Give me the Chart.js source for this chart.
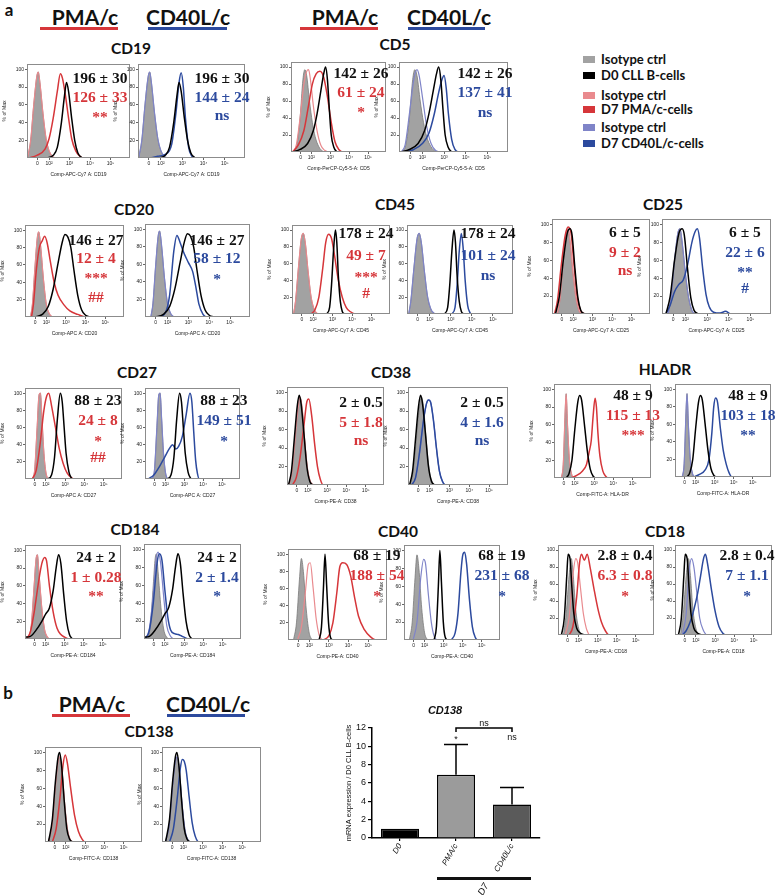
<!DOCTYPE html>
<html>
<head>
<meta charset="utf-8">
<script src="https://cdn.jsdelivr.net/npm/chart.js@4.4.0/dist/chart.umd.min.js"></script>
<style>
  body { margin:0; background:#fff; width:777px; height:895px; position:relative; overflow:hidden; font-family:Lato, "Open Sans", sans-serif; }
  canvas { position:absolute; }
  .t { position:absolute; white-space:nowrap; transform:translate(-50%,-50%); line-height:1; }
  .hdr { font-weight:700; font-size:21px; color:#111; }
  .ttl { font-weight:700; font-size:15.5px; color:#111; }
  .pl  { font-weight:700; font-size:17px; color:#111; }
  .val { font-family:"Liberation Serif", serif; font-weight:700; font-size:15.5px; }
  .bar { position:absolute; }
  .leg { position:absolute; font-weight:700; font-size:13px; color:#111; line-height:1; transform:translateY(-50%); white-space:nowrap; }
</style>
</head>
<body>
<script>
/* ---- DATA ---- */

// x axis of the histograms: display units (10^k at k), "0" sits just left of 10^2
const xTickPos = [1.43, 2, 3, 4, 5];
const xTickLabels = ['0', '10²', '10³', '10⁴', '10⁵'];
const yTickVals = [20, 40, 60, 80, 100];

// each curve: [position, % of max]
const cd19Iso   = [[0.95,0],[1.1,20],[1.25,60],[1.4,92],[1.47,97],[1.55,85],[1.7,50],[1.85,22],[2.0,8],[2.2,1],[2.4,0]];
const cd19D0    = [[1.9,0],[2.2,3],[2.4,12],[2.6,40],[2.75,70],[2.85,85],[2.95,75],[3.1,45],[3.25,20],[3.4,6],[3.6,0]];
const cd19Pma   = [[1.0,0],[1.4,3],[1.8,10],[2.0,22],[2.2,45],[2.4,75],[2.55,95],[2.65,90],[2.8,70],[2.95,45],[3.1,22],[3.3,8],[3.5,2],[3.7,0],[5.95,0]];
const cd19Cd40l = [[1.5,0],[1.85,2],[2.2,4],[2.5,15],[2.7,50],[2.85,85],[2.95,96],[3.05,80],[3.15,45],[3.3,12],[3.45,2],[3.6,0],[5.95,0]];

const cd5Iso    = [[1.0,0],[1.2,5],[1.4,40],[1.55,85],[1.65,97],[1.75,90],[1.9,60],[2.05,35],[2.2,18],[2.4,6],[2.6,1],[2.8,0]];
const cd5IsoP   = [[1.0,0],[1.2,8],[1.4,40],[1.6,80],[1.75,95],[1.85,97],[1.95,85],[2.1,55],[2.3,25],[2.5,8],[2.7,2],[2.9,0]];
const cd5IsoC   = [[1.0,0],[1.2,8],[1.4,45],[1.6,85],[1.75,97],[1.85,90],[2.0,65],[2.2,30],[2.4,10],[2.6,2],[2.8,0]];
const cd5D0     = [[1.0,0],[1.4,3],[1.8,10],[2.1,25],[2.3,45],[2.5,72],[2.65,92],[2.75,100],[2.85,85],[2.95,50],[3.05,20],[3.2,5],[3.35,0]];
const cd5Pma    = [[1.0,0],[1.3,8],[1.6,25],[1.85,55],[2.05,80],[2.25,92],[2.45,95],[2.65,88],[2.85,65],[3.05,35],[3.25,12],[3.45,3],[3.7,0],[5.95,0]];
const cd5Cd40l  = [[1.2,0],[1.6,3],[2.0,10],[2.3,22],[2.55,45],[2.75,70],[2.9,85],[3.0,90],[3.1,75],[3.2,45],[3.35,15],[3.5,3],[3.7,0],[5.95,0]];

const cd20Iso   = [[1.2,0],[1.3,15],[1.42,55],[1.55,92],[1.62,98],[1.72,80],[1.85,45],[2.0,15],[2.15,4],[2.3,0]];
const cd20D0    = [[1.4,0],[1.8,3],[2.1,12],[2.35,32],[2.6,62],[2.8,85],[2.95,95],[3.1,92],[3.25,80],[3.4,55],[3.6,25],[3.8,8],[4.0,2],[4.2,0]];
const cd20Pma   = [[1.25,0],[1.35,15],[1.5,55],[1.65,80],[1.8,88],[1.92,93],[2.05,85],[2.2,65],[2.4,40],[2.6,25],[2.9,14],[3.2,7],[3.6,3],[4.0,0],[5.95,0]];
const cd20Cd40l = [[1.6,0],[1.9,5],[2.1,25],[2.3,75],[2.45,93],[2.6,85],[2.8,72],[3.0,62],[3.2,52],[3.35,35],[3.5,15],[3.7,3],[3.9,0],[5.95,0]];

const cd45Iso   = [[1.0,0],[1.1,15],[1.25,55],[1.4,90],[1.5,96],[1.6,85],[1.75,50],[1.9,20],[2.05,6],[2.2,1],[2.35,0]];
const cd45D0    = [[2.7,0],[2.85,8],[2.95,35],[3.05,75],[3.15,100],[3.22,85],[3.3,45],[3.4,15],[3.5,3],[3.6,0]];
const cd45Pma   = [[1.9,0],[2.1,5],[2.3,20],[2.5,55],[2.65,85],[2.8,95],[2.95,90],[3.1,70],[3.3,40],[3.5,20],[3.7,8],[3.9,3],[4.2,0],[5.95,0]];
const cd45Cd40l = [[3.05,0],[3.2,8],[3.3,35],[3.4,75],[3.5,96],[3.58,80],[3.68,40],[3.8,10],[3.9,2],[4.0,0],[5.95,0]];

const cd25Iso   = [[1.2,0],[1.35,20],[1.5,60],[1.65,90],[1.75,95],[1.85,80],[2.0,45],[2.15,18],[2.3,4],[2.45,0]];
const cd25D0    = [[1.1,0],[1.3,20],[1.5,60],[1.7,90],[1.85,95],[1.95,88],[2.1,50],[2.25,18],[2.4,4],[2.6,0]];
const cd25Pma   = [[1.05,0],[1.2,15],[1.4,55],[1.6,88],[1.75,97],[1.9,90],[2.05,55],[2.2,22],[2.35,6],[2.5,1],[2.7,0],[5.95,0]];
const cd25Cd40l = [[1.1,0],[1.3,10],[1.5,25],[1.7,33],[1.9,38],[2.1,55],[2.3,80],[2.45,92],[2.55,95],[2.65,85],[2.8,50],[2.95,22],[3.1,8],[3.3,2],[3.6,1],[3.85,3],[4.1,0],[5.95,0]];

const cd27Iso   = [[1.3,0],[1.42,10],[1.55,60],[1.65,98],[1.72,100],[1.8,70],[1.9,30],[2.0,8],[2.1,0]];
const cd27D0    = [[2.1,0],[2.3,5],[2.45,25],[2.6,70],[2.75,100],[2.85,90],[2.95,60],[3.05,30],[3.2,8],[3.35,0]];
const cd27Pma   = [[1.3,0],[1.5,10],[1.7,40],[1.9,80],[2.05,97],[2.15,100],[2.3,85],[2.5,60],[2.7,35],[2.9,18],[3.1,7],[3.3,2],[3.5,0],[5.95,0]];
const cd27Cd40l = [[1.1,0],[1.4,5],[1.7,15],[1.95,25],[2.2,35],[2.38,40],[2.55,35],[2.7,38],[2.9,50],[3.1,75],[3.3,100],[3.4,90],[3.5,55],[3.6,22],[3.7,6],[3.8,0],[5.95,0]];

const cd38Iso   = [[1.0,0],[1.15,10],[1.3,40],[1.45,75],[1.6,95],[1.72,80],[1.85,45],[2.0,15],[2.15,3],[2.3,0]];
const cd38D0    = [[1.0,0],[1.15,15],[1.3,50],[1.45,85],[1.55,97],[1.65,88],[1.8,55],[1.95,20],[2.1,4],[2.25,0]];
const cd38Pma   = [[1.2,0],[1.4,8],[1.6,30],[1.8,65],[1.95,90],[2.05,93],[2.2,75],[2.35,45],[2.5,20],[2.65,6],[2.8,0],[5.95,0]];
const cd38Cd40l = [[1.1,0],[1.3,8],[1.5,35],[1.7,70],[1.85,88],[1.95,92],[2.05,90],[2.2,70],[2.35,40],[2.5,15],[2.65,4],[2.8,0],[5.95,0]];

const hladrIso   = [[1.3,0],[1.4,15],[1.5,75],[1.55,95],[1.62,60],[1.72,20],[1.85,3],[1.95,0]];
const hladrD0    = [[1.55,0],[1.7,5],[1.85,20],[2.0,55],[2.15,85],[2.25,93],[2.35,88],[2.5,60],[2.65,30],[2.8,10],[2.95,2],[3.1,0]];
const hladrPma   = [[1.8,0],[2.1,3],[2.4,8],[2.6,15],[2.75,30],[2.85,42],[2.95,70],[3.05,90],[3.12,80],[3.2,50],[3.3,25],[3.45,8],[3.6,2],[3.75,0],[5.95,0]];
const hladrCd40l = [[1.9,0],[2.2,3],[2.5,8],[2.7,20],[2.85,50],[2.95,80],[3.05,90],[3.15,85],[3.3,55],[3.45,30],[3.6,15],[3.75,5],[3.9,0],[5.95,0]];

const cd184Iso   = [[1.1,0],[1.25,15],[1.4,60],[1.5,90],[1.57,95],[1.65,75],[1.8,35],[1.95,10],[2.1,2],[2.2,0]];
const cd184IsoC  = [[1.0,0],[1.2,12],[1.4,50],[1.55,90],[1.65,97],[1.78,85],[1.95,45],[2.1,15],[2.3,3],[2.45,0]];
const cd184D0    = [[0.92,2],[1.2,3],[1.5,10],[1.8,20],[2.0,28],[2.2,35],[2.4,55],[2.55,80],[2.68,95],[2.8,85],[2.95,50],[3.1,20],[3.25,5],[3.4,0]];
const cd184Pma   = [[1.0,0],[1.2,8],[1.4,30],[1.6,60],[1.8,85],[1.95,92],[2.05,88],[2.2,60],[2.4,30],[2.6,12],[2.8,5],[3.0,2],[3.2,0],[5.95,0]];
const cd184Cd40l = [[1.0,0],[1.2,10],[1.4,40],[1.6,85],[1.72,95],[1.85,88],[2.0,55],[2.15,25],[2.3,10],[2.5,6],[2.7,5],[2.9,3],[3.1,1],[3.3,0],[5.95,0]];

const cd40Iso   = [[1.2,0],[1.35,20],[1.5,70],[1.6,95],[1.7,80],[1.85,35],[2.0,8],[2.15,0]];
const cd40IsoP  = [[1.4,0],[1.6,15],[1.8,55],[1.95,88],[2.05,90],[2.2,60],[2.35,25],[2.5,6],[2.65,0]];
const cd40IsoC  = [[1.4,0],[1.6,20],[1.8,70],[1.95,90],[2.05,85],[2.2,50],[2.35,20],[2.5,4],[2.65,0]];
const cd40D0    = [[2.5,0],[2.62,15],[2.72,60],[2.8,100],[2.88,65],[2.98,20],[3.08,3],[3.2,0]];
const cd40Pma   = [[2.7,0],[3.0,5],[3.2,20],[3.4,55],[3.55,85],[3.7,90],[3.9,88],[4.1,75],[4.3,50],[4.5,28],[4.8,12],[5.1,4],[5.4,0],[5.95,0]];
const cd40Cd40l = [[3.4,0],[3.6,8],[3.75,30],[3.9,75],[4.0,95],[4.1,98],[4.2,85],[4.35,45],[4.5,15],[4.65,3],[4.8,0],[5.95,0]];

const cd18Iso   = [[1.2,0],[1.35,25],[1.5,70],[1.62,90],[1.72,70],[1.85,30],[2.0,8],[2.15,0]];
const cd18IsoP  = [[1.3,0],[1.5,20],[1.7,70],[1.85,90],[1.95,85],[2.1,55],[2.25,25],[2.4,8],[2.55,0]];
const cd18IsoC  = [[1.3,0],[1.5,25],[1.65,75],[1.78,90],[1.9,80],[2.05,50],[2.2,20],[2.4,5],[2.55,0]];
const cd18D0    = [[1.1,0],[1.25,20],[1.38,70],[1.45,95],[1.55,90],[1.65,55],[1.75,25],[1.9,8],[2.1,2],[2.3,0]];
const cd18Pma   = [[1.5,0],[1.7,10],[1.9,45],[2.05,85],[2.15,95],[2.3,88],[2.45,95],[2.6,80],[2.8,55],[3.0,32],[3.2,15],[3.4,5],[3.6,0],[5.95,0]];
const cd18Cd40l = [[1.3,0],[1.5,5],[1.7,15],[1.9,30],[2.1,50],[2.25,70],[2.4,90],[2.5,95],[2.6,85],[2.8,55],[3.0,28],[3.2,10],[3.4,2],[3.55,0],[5.95,0]];

const cd138Iso   = [[1.1,0],[1.3,20],[1.45,60],[1.6,90],[1.7,95],[1.8,80],[1.95,40],[2.1,12],[2.25,2],[2.4,0]];
const cd138D0    = [[1.1,0],[1.3,25],[1.45,65],[1.6,95],[1.68,100],[1.78,85],[1.92,45],[2.05,15],[2.2,3],[2.35,0]];
const cd138Pma   = [[1.3,0],[1.5,15],[1.7,50],[1.85,85],[1.97,97],[2.08,88],[2.25,60],[2.45,30],[2.65,12],[2.85,3],[3.0,0],[5.95,0]];
const cd138Cd40l = [[1.3,0],[1.5,15],[1.7,50],[1.85,82],[1.95,92],[2.05,90],[2.15,80],[2.3,50],[2.45,22],[2.6,7],[2.8,0],[5.95,0]];

// MFI ratios written on the plots: D0 value, then D7 value and significance marks
const statD0  = { cd19:'196 ± 30', cd5:'142 ± 26', cd20:'146 ± 27', cd45:'178 ± 24', cd25:'6 ± 5', cd27:'88 ± 23',
                  cd38:'2 ± 0.5', hladr:'48 ± 9', cd184:'24 ± 2', cd40:'68 ± 19', cd18:'2.8 ± 0.4' };
const statPma = { cd19:['126 ± 33','**'], cd5:['61 ± 24','*'], cd20:['12 ± 4','***','##'], cd45:['49 ± 7','***','#'],
                  cd25:['9 ± 2','ns'], cd27:['24 ± 8','*','##'], cd38:['5 ± 1.8','ns'], hladr:['115 ± 13','***'],
                  cd184:['1 ± 0.28','**'], cd40:['188 ± 54','*'], cd18:['6.3 ± 0.8','*'] };
const statCd40l = { cd19:['144 ± 24','ns'], cd5:['137 ± 41','ns'], cd20:['58 ± 12','*'], cd45:['101 ± 24','ns'],
                  cd25:['22 ± 6','**','#'], cd27:['149 ± 51','*'], cd38:['4 ± 1.6','ns'], hladr:['103 ± 18','**'],
                  cd184:['2 ± 1.4','*'], cd40:['231 ± 68','*'], cd18:['7 ± 1.1','*'] };

// qPCR bar chart (panel b)
const barCats = ['D0', 'PMA/c', 'CD40L/c'];
const barVals = [1.0, 6.9, 3.65];
const barErr  = [0, 3.3, 1.85];
const barSig  = ['', '*', 'ns'];
const bracketSig = 'ns';

const legendItems = ['Isotype ctrl', 'D0 CLL B-cells', 'Isotype ctrl', 'D7 PMA/c-cells', 'Isotype ctrl', 'D7 CD40L/c-cells'];

/* ---- STYLE ---- */
const RED = '#d6363a', PINK = '#e98a8e', BLUE = '#2c4a9e', LBLUE = '#7f84c8', GREY = '#a2a2a2';
const X_MIN = 0.92, X_MAX = 5.95;

/* ---- LAYOUT ---- box = [left, top, right, bottom] of the plot frame */
const panels = [
  {box:[27,62,130,158],  iso:cd19Iso, isoL:cd19Iso, d0:cd19D0, d7:cd19Pma,   c:'p', k:'cd19', xt:'Comp-APC-Cy7 A: CD19', tx:100, ty:[78,97,113]},
  {box:[138,62,245,158], iso:cd19Iso, isoL:cd19Iso, d0:cd19D0, d7:cd19Cd40l, c:'c', k:'cd19', xt:'Comp-APC-Cy7 A: CD19', tx:222, ty:[78,97,115]},
  {box:[291,60,386,152], iso:cd5Iso, isoL:cd5IsoP, d0:cd5D0, d7:cd5Pma,   c:'p', k:'cd5', xt:'Comp-PerCP-Cy5-5-A: CD5', tx:361, ty:[73,92,108]},
  {box:[399,60,508,152], iso:cd5Iso, isoL:cd5IsoC, d0:cd5D0, d7:cd5Cd40l, c:'c', k:'cd5', xt:'Comp-PerCP-Cy5-5-A: CD5', tx:485, ty:[73,92,112]},

  {box:[25,223,124,317],  iso:cd20Iso, isoL:cd20Iso, d0:cd20D0, d7:cd20Pma,   c:'p', k:'cd20', xt:'Comp-APC A: CD20', tx:96, ty:[240,258,274,297]},
  {box:[145,222,250,317], iso:cd20Iso, isoL:cd20Iso, d0:cd20D0, d7:cd20Cd40l, c:'c', k:'cd20', xt:'Comp-APC A: CD20', tx:217, ty:[240,258,275]},
  {box:[292,223,390,314], iso:cd45Iso, isoL:cd45Iso, d0:cd45D0, d7:cd45Pma,   c:'p', k:'cd45', xt:'Comp-APC-Cy7 A: CD45', tx:366, ty:[233,255,273,293]},
  {box:[407,223,513,314], iso:cd45Iso, isoL:cd45Iso, d0:cd45D0, d7:cd45Cd40l, c:'c', k:'cd45', xt:'Comp-APC-Cy7 A: CD45', tx:488, ty:[233,255,275]},
  {box:[552,217,650,314], iso:cd25Iso, isoL:cd25Iso, d0:cd25D0, d7:cd25Pma,   c:'p', k:'cd25', xt:'Comp-APC-Cy7 A: CD25', tx:625, ty:[232,252,270]},
  {box:[662,217,771,314], iso:cd25Iso, isoL:cd25Iso, d0:cd25D0, d7:cd25Cd40l, c:'c', k:'cd25', xt:'Comp-APC-Cy7 A: CD25', tx:745, ty:[232,252,268,288]},

  {box:[25,386,122,479],  iso:cd27Iso, isoL:cd27Iso, d0:cd27D0, d7:cd27Pma,   c:'p', k:'cd27', xt:'Comp-APC A: CD27', tx:98, ty:[400,420,437,457]},
  {box:[145,386,240,479], iso:cd27Iso, isoL:cd27Iso, d0:cd27D0, d7:cd27Cd40l, c:'c', k:'cd27', xt:'Comp-APC A: CD27', tx:224, ty:[400,420,437]},
  {box:[287,385,384,485], iso:cd38Iso, isoL:cd38Iso, d0:cd38D0, d7:cd38Pma,   c:'p', k:'cd38', xt:'Comp-PE-A: CD38', tx:361, ty:[402,422,440]},
  {box:[408,385,508,485], iso:cd38Iso, isoL:cd38Cd40l, d0:cd38D0, d7:cd38Cd40l, c:'c', k:'cd38', xt:'Comp-PE-A: CD38', tx:482, ty:[402,422,440]},
  {box:[554,382,651,478], iso:hladrIso, isoL:hladrIso, d0:hladrD0, d7:hladrPma,   c:'p', k:'hladr', xt:'Comp-FITC-A: HLA-DR', tx:633, ty:[395,415,431]},
  {box:[675,382,771,477], iso:hladrIso, isoL:hladrIso, d0:hladrD0, d7:hladrCd40l, c:'c', k:'hladr', xt:'Comp-FITC-A: HLA-DR', tx:748, ty:[395,415,431]},

  {box:[25,543,121,639],  iso:cd184Iso, isoL:cd184Iso,  d0:cd184D0, d7:cd184Pma,   c:'p', k:'cd184', xt:'Comp-PE-A: CD184', tx:96, ty:[557,577,592]},
  {box:[144,542,241,639], iso:cd184Iso, isoL:cd184IsoC, d0:cd184D0, d7:cd184Cd40l, c:'c', k:'cd184', xt:'Comp-PE-A: CD184', tx:217, ty:[557,577,592]},
  {box:[288,547,387,640], iso:cd40Iso, isoL:cd40IsoP, d0:cd40D0, d7:cd40Pma,   c:'p', k:'cd40', xt:'Comp-PE-A: CD40', tx:377, ty:[555,575,592]},
  {box:[404,543,500,640], iso:cd40Iso, isoL:cd40IsoC, d0:cd40D0, d7:cd40Cd40l, c:'c', k:'cd40', xt:'Comp-PE-A: CD40', tx:502, ty:[555,575,592]},
  {box:[558,543,654,635], iso:cd18Iso, isoL:cd18IsoP, d0:cd18D0, d7:cd18Pma,   c:'p', k:'cd18', xt:'Comp-PE-A: CD18', tx:625, ty:[555,575,592]},
  {box:[675,543,772,635], iso:cd18Iso, isoL:cd18IsoC, d0:cd18D0, d7:cd18Cd40l, c:'c', k:'cd18', xt:'Comp-PE-A: CD18', tx:747, ty:[555,575,592]},

  {box:[45,745,142,842],  iso:cd138Iso, isoL:cd138Iso, d0:cd138D0, d7:cd138Pma,   c:'p', k:null, xt:'Comp-FITC-A: CD138'},
  {box:[162,745,261,842], iso:cd138Iso, isoL:cd138Iso, d0:cd138D0, d7:cd138Cd40l, c:'c', k:null, xt:'Comp-FITC-A: CD138'}
];

/* ---- HELPERS ---- */
function txt(s, x, y, cls, color) {
  const d = document.createElement('div');
  d.className = 't ' + cls;
  d.textContent = s;
  d.style.left = x + 'px';
  d.style.top = y + 'px';
  if (color) d.style.color = color;
  document.body.appendChild(d);
  return d;
}
function rule(x1, x2, y, color, h) {
  const d = document.createElement('div');
  d.className = 'bar';
  Object.assign(d.style, {left:x1+'px', top:y+'px', width:(x2-x1)+'px', height:h+'px', background:color});
  document.body.appendChild(d);
}
const pts = arr => arr.map(([x, y]) => ({x, y}));

// grey frame around each histogram
const boxPlugin = {
  id: 'box',
  afterDatasetsDraw(chart) {
    const a = chart.chartArea, ctx = chart.ctx;
    ctx.save();
    ctx.strokeStyle = '#8c8c8c';
    ctx.lineWidth = 1;
    ctx.strokeRect(a.left + 0.5, a.top + 0.5, a.right - a.left - 1, a.bottom - a.top - 1);
    ctx.restore();
  }
};

function histo(p) {
  const [L, T, R, B] = p.box;
  const padL = 25, padB = 20, padT = 2, padR = 2;
  const W = R - L + padL + padR, H = B - T + padT + padB;
  const cv = document.createElement('canvas');
  cv.width = W; cv.height = H;
  Object.assign(cv.style, {left:(L-padL)+'px', top:(T-padT)+'px', width:W+'px', height:H+'px'});
  document.body.appendChild(cv);
  const col = p.c === 'p' ? RED : BLUE;
  const light = p.c === 'p' ? PINK : LBLUE;
  const tickFont = {size:5, family:'Liberation Sans'};

  new Chart(cv, {
    type: 'line',
    data: {
      datasets: [
        {data: pts(p.d0),   borderColor: '#000', borderWidth: 1.5, order: 1},
        {data: pts(p.d7),   borderColor: col,    borderWidth: 1.5, order: 2},
        {data: pts(p.isoL), borderColor: light,  borderWidth: 1.2, order: 3},
        {data: pts(p.iso),  borderColor: '#7a7a7a', borderWidth: 0.8, backgroundColor: GREY, fill: 'origin', order: 4}
      ]
    },
    options: {
      responsive: false,
      animation: false,
      events: [],
      layout: {padding: {top: padT, right: padR, left: 0, bottom: 0}},
      elements: {point: {radius: 0}, line: {cubicInterpolationMode: 'monotone', fill: false}},
      plugins: {legend: {display: false}, tooltip: {enabled: false}},
      scales: {
        x: {
          type: 'linear', min: X_MIN, max: X_MAX,
          afterFit(s) { s.height = padB; },
          afterBuildTicks(s) { s.ticks = xTickPos.map(v => ({value: v})); },
          ticks: {autoSkip: false, maxRotation: 0, font: tickFont, color: '#222', padding: 1,
                  callback: v => xTickLabels[xTickPos.indexOf(v)]},
          grid: {drawOnChartArea: false, tickLength: 2, color: '#666'},
          border: {display: false},
          title: {display: true, text: p.xt, font: tickFont, color: '#222', padding: 0}
        },
        y: {
          min: 0, max: 106,
          afterFit(s) { s.width = padL; },
          afterBuildTicks(s) { s.ticks = yTickVals.map(v => ({value: v})); },
          ticks: {font: tickFont, color: '#222', padding: 1},
          grid: {drawOnChartArea: false, tickLength: 2, color: '#666'},
          border: {display: false},
          title: {display: true, text: '% of Max', font: tickFont, color: '#222', padding: 0}
        }
      }
    },
    plugins: [boxPlugin]
  });

  if (p.k) {
    const d7 = p.c === 'p' ? statPma[p.k] : statCd40l[p.k];
    txt(statD0[p.k], p.tx, p.ty[0], 'val', '#111');
    d7.forEach((s, i) => {
      const star = /^\*+$/.test(s);
      txt(s, p.tx, p.ty[i + 1] + (star ? 4 : 0), 'val', col);
    });
  }
}

/* ---- HEADERS, TITLES, LEGEND ---- */
txt('a', 9, 9, 'pl');
txt('b', 8, 692, 'pl');
[[85, 40, 118, 'PMA/c', RED], [188, 148, 227, 'CD40L/c', BLUE],
 [345, 300, 378, 'PMA/c', RED], [449, 408, 485, 'CD40L/c', BLUE]].forEach(([cx, a, b, s, c]) => {
  txt(s, cx, 16, 'hdr'); rule(a, b, 27, c, 3);
});
[[92, 52, 130, 'PMA/c', RED], [208, 167, 245, 'CD40L/c', BLUE]].forEach(([cx, a, b, s, c]) => {
  txt(s, cx, 703, 'hdr'); rule(a, b, 714, c, 3);
});
[['CD19',131,49],['CD5',395,45],['CD20',134,210],['CD45',395,205],['CD25',663,205],
 ['CD27',137,373],['CD38',391,373],['HLADR',665,370],['CD184',135,530],['CD40',398,532],
 ['CD18',665,532],['CD138',149,732]].forEach(([s, x, y]) => txt(s, x, y, 'ttl'));

const legColors = [GREY, '#000', PINK, RED, LBLUE, BLUE];
const legY = [59, 75, 95, 109, 127, 143];
legendItems.forEach((s, i) => {
  rule(583, 595, legY[i] - 3, legColors[i], 7);
  const d = document.createElement('div');
  d.className = 'leg';
  d.textContent = s;
  d.style.left = '601px';
  d.style.top = legY[i] + 'px';
  document.body.appendChild(d);
});

panels.forEach(histo);

/* ---- BAR CHART (qPCR) ---- */
const errPlugin = {
  id: 'err',
  afterDatasetsDraw(chart) {
    const ctx = chart.ctx, ys = chart.scales.y, meta = chart.getDatasetMeta(0);
    ctx.save();
    ctx.strokeStyle = '#000';
    ctx.lineWidth = 1.5;
    barVals.forEach((v, i) => {
      if (!barErr[i]) return;
      const x = meta.data[i].x, y0 = ys.getPixelForValue(v), y1 = ys.getPixelForValue(v + barErr[i]);
      ctx.beginPath();
      ctx.moveTo(x, y0); ctx.lineTo(x, y1);
      ctx.moveTo(x - 12, y1); ctx.lineTo(x + 12, y1);
      ctx.stroke();
    });
    // significance marks
    const x1 = meta.data[1].x, x2 = meta.data[2].x, yb = ys.getPixelForValue(12);
    ctx.beginPath();
    ctx.moveTo(x1, yb + 4); ctx.lineTo(x1, yb); ctx.lineTo(x2, yb); ctx.lineTo(x2, yb + 4);
    ctx.stroke();
    ctx.fillStyle = '#111';
    ctx.font = '9px "Liberation Sans"';
    ctx.textAlign = 'center';
    ctx.textBaseline = 'alphabetic';
    ctx.fillText(bracketSig, (x1 + x2) / 2, yb - 2);
    ctx.textBaseline = 'middle';
    barSig.forEach((s, i) => {
      if (s) ctx.fillText(s, meta.data[i].x, ys.getPixelForValue(11) + (s === '*' ? 2 : 0));
    });
    ctx.restore();
  }
};

const bc = document.createElement('canvas');
bc.width = 224; bc.height = 195;
Object.assign(bc.style, {left:'344px', top:'700px', width:'224px', height:'195px'});
document.body.appendChild(bc);
new Chart(bc, {
  type: 'bar',
  data: {
    labels: barCats,
    datasets: [{
      data: barVals,
      backgroundColor: ['#000000', '#9b9b9b', '#5a5a5a'],
      borderColor: '#000',
      borderWidth: 1.5,
      categoryPercentage: 1,
      barPercentage: 0.68
    }]
  },
  options: {
    responsive: false,
    animation: false,
    events: [],
    layout: {padding: {top: 28, right: 28}},
    plugins: {legend: {display: false}, tooltip: {enabled: false}},
    scales: {
      x: {
        afterFit(s) { s.height = 57; },
        grid: {drawOnChartArea: false, offset: false, tickLength: 3, color: '#000', lineWidth: 1.2},
        border: {color: '#000', width: 1.5},
        ticks: {minRotation: 60, maxRotation: 60, font: {size: 8, style: 'italic', family: 'Liberation Sans'}, color: '#111', padding: 1}
      },
      y: {
        min: 0, max: 12,
        afterFit(s) { s.width = 28; },
        ticks: {stepSize: 2, font: {size: 9, family: 'Liberation Sans'}, color: '#111', padding: 2},
        grid: {drawOnChartArea: false, tickLength: 4, color: '#000', lineWidth: 1.2},
        border: {color: '#000', width: 1.5},
        title: {display: true, text: 'mRNA expression / D0 CLL B-cells', font: {size: 7.5, family: 'Liberation Sans'}, color: '#111', padding: 0}
      }
    }
  },
  plugins: [errPlugin]
});

txt('CD138', 445, 710, 'ttl').style.cssText += 'font-size:11px;font-style:italic;font-family:"Liberation Sans",sans-serif;';
rule(437, 531, 877, '#111', 2.5);
const d7 = txt('D7', 483, 889, 'ttl');
d7.style.cssText += 'font-size:9.5px;font-style:italic;font-weight:400;font-family:"Liberation Sans",sans-serif;';
d7.style.transform = 'translate(-50%,-50%) rotate(-60deg)';
</script>
</body>
</html>
